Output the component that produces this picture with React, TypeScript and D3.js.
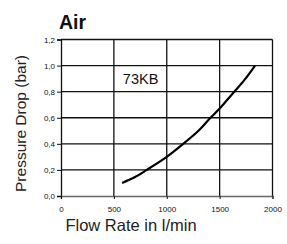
import React, { useEffect, useRef } from "react";
import * as d3 from "d3";

const flowRate = [578, 700, 811, 1000, 1141, 1300, 1414, 1500, 1628, 1735, 1835];
const pressureDrop = [0.1, 0.145, 0.2, 0.3, 0.39, 0.5, 0.6, 0.67, 0.79, 0.89, 1.0];
const xTicks = [0, 500, 1000, 1500, 2000];
const yTicks = [0, 0.2, 0.4, 0.6, 0.8, 1.0, 1.2];
const seriesName = "73KB";

const font = "'Liberation Sans', Arial, Helvetica, sans-serif";

const App = () => {
  const svgRef = useRef<SVGSVGElement>(null);

  useEffect(() => {
    const svg = d3.select(svgRef.current);
    const width = 287;
    const height = 244;
    const margin = { top: 39.5, right: 14.5, bottom: 48, left: 61 };

    svg.selectAll("*").remove();

    const chartWidth = width - margin.left - margin.right;
    const chartHeight = height - margin.top - margin.bottom;

    const x = d3.scaleLinear().domain([0, 2000]).range([0, chartWidth]);
    const y = d3.scaleLinear().domain([0, 1.2]).range([chartHeight, 0]);

    const g = svg
      .append("g")
      .attr("transform", `translate(${margin.left}, ${margin.top})`);

    // grid
    g.selectAll(".hgrid")
      .data(yTicks.filter((d) => d > 0))
      .enter()
      .append("line")
      .attr("x1", 0)
      .attr("x2", chartWidth)
      .attr("y1", (d) => y(d))
      .attr("y2", (d) => y(d))
      .attr("stroke", "#111")
      .attr("stroke-width", 1.3);

    g.selectAll(".vgrid")
      .data(xTicks.filter((d) => d > 0))
      .enter()
      .append("line")
      .attr("x1", (d) => x(d))
      .attr("x2", (d) => x(d))
      .attr("y1", 0)
      .attr("y2", chartHeight)
      .attr("stroke", "#111")
      .attr("stroke-width", 1.3);

    // left axis
    const yAxis = g
      .append("g")
      .call(
        d3
          .axisLeft(y)
          .tickValues(yTicks)
          .tickSize(4)
          .tickPadding(2)
          .tickFormat((d) => d3.format(".1f")(d as number).replace(".", ","))
      );
    yAxis.select(".domain").attr("stroke", "#111").attr("stroke-width", 1.3);
    yAxis.selectAll(".tick line").attr("stroke", "#111");
    yAxis
      .selectAll("text")
      .attr("font-family", font)
      .attr("font-size", 8)
      .attr("fill", "#111");

    // bottom axis
    const xAxis = g
      .append("g")
      .attr("transform", `translate(0, ${chartHeight})`)
      .call(
        d3
          .axisBottom(x)
          .tickValues(xTicks)
          .tickSize(3)
          .tickPadding(7)
          .tickFormat((d) => String(d))
      );
    xAxis.select(".domain").attr("stroke", "#666").attr("stroke-width", 1.3);
    xAxis.selectAll(".tick line").attr("stroke", "#111");
    xAxis
      .selectAll("text")
      .attr("font-family", font)
      .attr("font-size", 8)
      .attr("fill", "#111");

    // curve
    const line = d3
      .line<number>()
      .x((d, i) => x(flowRate[i]))
      .y((d) => y(d))
      .curve(d3.curveCatmullRom);

    g.append("path")
      .datum(pressureDrop)
      .attr("d", line)
      .attr("fill", "none")
      .attr("stroke", "#000")
      .attr("stroke-width", 2.2);

    g.append("text")
      .attr("x", x(585))
      .attr("y", y(0.9) + 5)
      .attr("font-family", font)
      .attr("font-size", 14.5)
      .attr("fill", "#111")
      .text(seriesName);

    // titles
    svg
      .append("text")
      .attr("x", 59)
      .attr("y", 28.5)
      .attr("font-family", font)
      .attr("font-size", 19.5)
      .attr("font-weight", "bold")
      .attr("fill", "#111")
      .text("Air");

    svg
      .append("text")
      .attr("transform", `translate(26, 123.5) rotate(-90)`)
      .attr("text-anchor", "middle")
      .attr("font-family", font)
      .attr("font-size", 15.5)
      .attr("fill", "#222")
      .text("Pressure Drop (bar)");

    svg
      .append("text")
      .attr("x", 131)
      .attr("y", 231)
      .attr("text-anchor", "middle")
      .attr("font-family", font)
      .attr("font-size", 16.5)
      .attr("fill", "#222")
      .text("Flow Rate in l/min");
  }, []);

  return (
    <svg
      ref={svgRef}
      width={287}
      height={244}
      style={{ position: "absolute", left: 0, top: 0, background: "#fff" }}
    ></svg>
  );
};

export default App;
